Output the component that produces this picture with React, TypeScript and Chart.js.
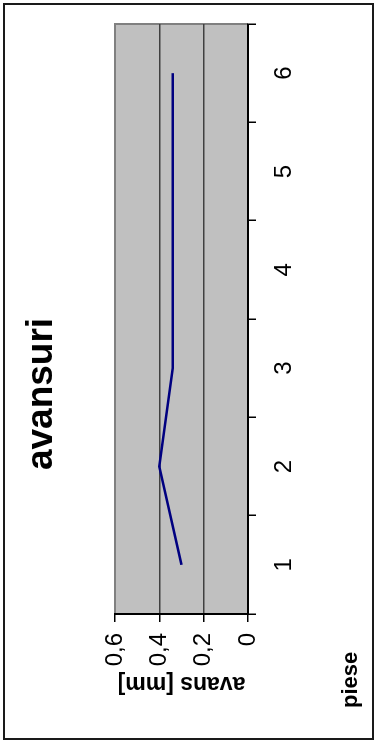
import React, { useEffect, useRef } from 'react';
import { Chart, registerables } from 'chart.js';

Chart.register(...registerables);

const categories = ['1', '2', '3', '4', '5', '6'];
const avansValues = [0.3, 0.4, 0.34, 0.34, 0.34, 0.34];
const valueTicks = [0, 0.2, 0.4, 0.6];
const valueTickLabels = ['0', '0,2', '0,4', '0,6'];
const chartTitle = 'avansuri';
const xAxisTitle = 'piese';
const yAxisTitle = 'avans [mm]';

const W = 735;
const H = 369;
const FONT = "'Liberation Sans', Arial, sans-serif";

const decorPlugin = {
  id: 'decor',
  beforeDraw(chart: any) {
    const { ctx, chartArea } = chart;
    ctx.save();
    ctx.fillStyle = '#C0C0C0';
    ctx.fillRect(chartArea.left, chartArea.top, chartArea.right - chartArea.left, chartArea.bottom - chartArea.top);
    ctx.strokeStyle = '#808080';
    ctx.lineWidth = 2;
    ctx.beginPath();
    ctx.moveTo(chartArea.left, chartArea.top);
    ctx.lineTo(chartArea.right, chartArea.top);
    ctx.lineTo(chartArea.right, chartArea.bottom);
    ctx.stroke();
    ctx.restore();
  },
  afterDraw(chart: any) {
    const { ctx } = chart;
    ctx.save();
    ctx.fillStyle = '#000';
    ctx.textBaseline = 'alphabetic';
    ctx.font = `bold 37px ${FONT}`;
    ctx.textAlign = 'center';
    ctx.fillText(chartTitle, 345, 48);
    ctx.font = `bold 22px ${FONT}`;
    ctx.textAlign = 'left';
    ctx.fillText(xAxisTitle, 31, 353);
    ctx.restore();
  },
};

export default function App() {
  const ref = useRef<HTMLCanvasElement>(null);

  useEffect(() => {
    if (!ref.current) return;
    const chart = new Chart(ref.current, {
      type: 'line',
      data: {
        labels: categories,
        datasets: [
          {
            label: yAxisTitle,
            data: avansValues,
            borderColor: '#000080',
            backgroundColor: '#000080',
            borderWidth: 2.5,
            pointRadius: 0,
            tension: 0,
            fill: false,
          },
        ],
      },
      options: {
        responsive: false,
        animation: false,
        devicePixelRatio: 1,
        layout: { padding: { top: 111, right: 20, left: 0, bottom: 0 } },
        plugins: {
          legend: { display: false },
          title: { display: false },
          tooltip: { enabled: false },
        },
        scales: {
          x: {
            type: 'category',
            offset: true,
            afterFit: (s: any) => {
              s.height = H - 244;
            },
            grid: {
              display: true,
              drawOnChartArea: false,
              offset: true,
              tickLength: 8,
              color: '#000',
              lineWidth: 1.5,
            },
            border: { display: true, color: '#000', width: 2 },
            ticks: {
              color: '#000',
              font: { family: FONT, size: 24 },
              padding: 14,
              maxRotation: 0,
              minRotation: 0,
            },
          },
          y: {
            type: 'linear',
            min: 0,
            max: 0.6,
            afterFit: (s: any) => {
              s.width = 125;
            },
            afterBuildTicks: (s: any) => {
              s.ticks = valueTicks.map((v) => ({ value: v }));
            },
            grid: {
              display: true,
              drawOnChartArea: true,
              tickLength: 8,
              color: (c: any) => (c.tick && Math.abs(c.tick.value - 0.6) < 1e-6 ? '#808080' : '#404040'),
              tickColor: '#000',
              lineWidth: 1.5,
            },
            border: { display: true, color: '#000', width: 2 },
            ticks: {
              color: '#000',
              font: { family: FONT, size: 24 },
              padding: 11,
              callback: (_v: any, i: number) => valueTickLabels[i],
            },
            title: {
              display: true,
              text: yAxisTitle,
              color: '#000',
              font: { family: FONT, size: 23, weight: 'bold' },
              padding: { top: 42, bottom: 0 },
            },
          },
        },
      },
      plugins: [decorPlugin],
    } as any);
    return () => chart.destroy();
  }, []);

  return (
    <div style={{ position: 'fixed', left: 0, top: 0, width: 374, height: 741, background: '#fff', overflow: 'hidden' }}>
      <canvas
        ref={ref}
        width={W}
        height={H}
        style={{
          position: 'absolute',
          left: 4,
          top: 4,
          width: W,
          height: H,
          transformOrigin: '0 0',
          transform: `translateY(${W}px) rotate(-90deg)`,
        }}
      />
      <div
        style={{
          position: 'absolute',
          left: 3,
          top: 3,
          width: 371,
          height: 737,
          boxSizing: 'border-box',
          border: '2px solid #1a1a1a',
          pointerEvents: 'none',
        }}
      />
    </div>
  );
}
